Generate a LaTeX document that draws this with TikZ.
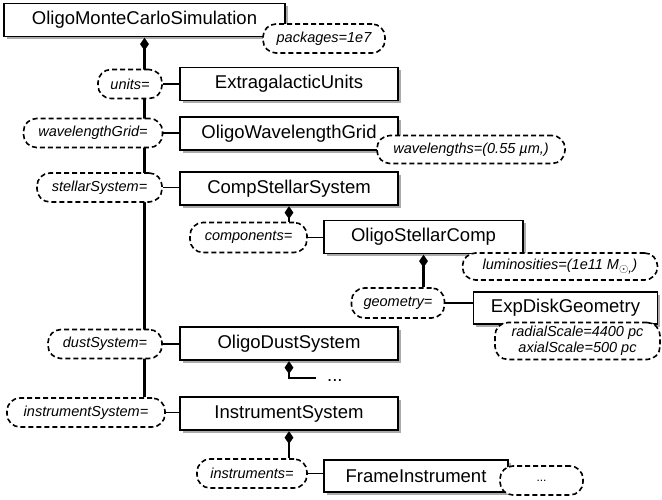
\documentclass[tikz,border=0pt]{standalone}
\usepackage{fontspec}
\setmainfont{Liberation Sans}
\usetikzlibrary{shadows,shapes.geometric,backgrounds}
\begin{document}
\begin{tikzpicture}[x=1pt,y=-1pt,
  cls/.style={draw, line width=1.8pt, fill=white, minimum height=33pt, inner sep=0pt,
    font=\fontsize{18.5}{21}\selectfont,
    drop shadow={shadow xshift=2.5pt, shadow yshift=-2.5pt, fill=black!55, opacity=0.6}},
  prop/.style={draw, dash pattern=on 5pt off 3pt, line width=1.6pt, fill=white,
    rounded corners=13pt, minimum height=29pt, inner sep=0pt,
    font=\fontsize{14.5}{16}\selectfont\itshape},
  dia/.style={diamond, fill=black, draw=none, inner sep=0pt, minimum width=9pt, minimum height=13pt, anchor=north},
  link/.style={line width=1.8pt},
  sub/.style={line width=2.4pt},
  trunk/.style={line width=3.4pt}]
\useasboundingbox (0,0) rectangle (662,499);

% class boxes
\node[cls, minimum width=281pt] (omc) at (144.5,20) {OligoMonteCarloSimulation};
\node[cls, minimum width=218pt] (ext) at (289,84) {ExtragalacticUnits};
\node[cls, minimum width=218pt] (owg) at (289,133.5) {OligoWavelengthGrid};
\node[cls, minimum width=218pt] (css) at (289,188.5) {CompStellarSystem};
\node[cls, minimum width=199pt] (osc) at (423.5,237) {OligoStellarComp};
\node[cls, minimum width=184pt, minimum height=32pt] (edg) at (565.5,308) {ExpDiskGeometry};
\node[cls, minimum width=218pt] (ods) at (289,343.5) {OligoDustSystem};
\node[cls, minimum width=218pt] (ins) at (289,413.5) {InstrumentSystem};
\node[cls, minimum width=184pt, minimum height=32pt] (fi) at (416,476) {FrameInstrument};

% property nodes
\node[prop, minimum width=122pt] (pkg) at (324,38.5) {packages=1e7};
\node[prop, minimum width=64pt] (units) at (130,84) {units=};
\node[prop, minimum width=139pt] (wg) at (93,133) {wavelengthGrid=};
\node[prop, minimum width=188pt, minimum height=28pt] (wl) at (471,149.5) {wavelengths=(0.55 µm,)};
\node[prop, minimum width=125pt] (ss) at (99.5,187.5) {stellarSystem=};
\node[prop, minimum width=117pt, minimum height=30pt] (comp) at (248.5,237.5) {components=};
\node[prop, minimum width=195pt, minimum height=27pt] (lum) at (560,266.5) {luminosities=(1e11 M\textsubscript{\fontsize{13}{13}\selectfont$\odot$,})};
\node[prop, minimum width=93pt, minimum height=30pt] (geo) at (398,303) {geometry=};
\node[prop, minimum width=165pt, minimum height=37pt, align=center] (rad) at (577.5,341) {radialScale=4400 pc\\axialScale=500 pc};
\node[prop, minimum width=114pt] (dust) at (105,344) {dustSystem=};
\node[prop, minimum width=158pt] (isys) at (86,412.5) {instrumentSystem=};
\node[prop, minimum width=110pt] (insts) at (252,473.5) {instruments=};
\node[prop, minimum width=83pt] (more2) at (541.5,480.5) {\raisebox{-2pt}{\fontsize{12}{12}\selectfont\upshape ...}};

% diamonds
\node[dia] (d0) at (omc.south) {};
\node[dia] (d1) at (css.south) {};
\node[dia] (d2) at (osc.south) {};
\node[dia] (d3) at (ods.south) {};
\node[dia] (d4) at (ins.south) {};

% dust continuation
\coordinate (e3) at (316,378);
\node[anchor=base west, inner sep=0pt, font=\fontsize{18.5}{21}\selectfont] (more1) at (327,381) {...};

\begin{pgfonlayer}{background}
  \draw[trunk] (d0.center) -- (d0.center |- isys.north);
  \draw[sub] (d1.center) -- (d1.center |- comp.north);
  \draw[sub] (d2.center) -- (d2.center |- geo.north);
  \draw[sub] (d3.center) |- (e3);
  \draw[sub] (d4.center) -- (d4.center |- insts.north);
  \draw[link] (units.east) -- (units.east -| ext.west);
  \draw[link] (wg.east) -- (wg.east -| owg.west);
  \draw[link] (ss.east) -- (ss.east -| css.west);
  \draw[link] (comp.east) -- (comp.east -| osc.west);
  \draw[link] (geo.east) -- (geo.east -| edg.west);
  \draw[link] (dust.east) -- (dust.east -| ods.west);
  \draw[link] (isys.east) -- (isys.east -| ins.west);
  \draw[link] (insts.east) -- (insts.east -| fi.west);
\end{pgfonlayer}
\end{tikzpicture}
\end{document}
